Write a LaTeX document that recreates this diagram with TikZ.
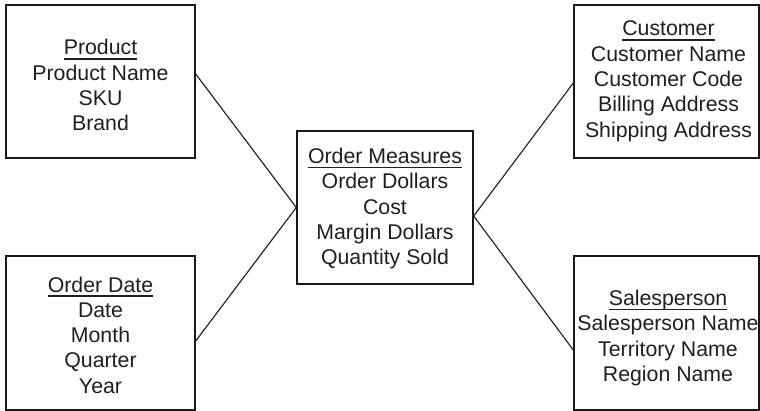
\documentclass[tikz,border=0pt]{standalone}
\usepackage{fontspec}
\setmainfont{Liberation Sans}
\usetikzlibrary{calc}
\newcommand{\ulx}[1]{\setbox0\hbox{#1}\rlap{\rule[-4.6pt]{\wd0}{1.2pt}}\box0}
\tikzset{
  entbox/.style={draw=black!90, line width=1.4pt},
  enttext/.style={anchor=base, align=center, inner sep=0pt, text=black!88,
    font=\fontsize{21.3}{25.3}\selectfont},
  link/.style={draw=black!90, line width=1.1pt}
}
\begin{document}
\begin{tikzpicture}[x=1pt,y=-1pt]
\useasboundingbox (0,0) rectangle (760,411);
\node[entbox, minimum width=189pt, minimum height=153pt, inner sep=0pt] (prod) at (100.5,81.5) {};
\node[entbox, minimum width=185pt, minimum height=153pt, inner sep=0pt] (cust) at (666.5,81.5) {};
\node[entbox, minimum width=189pt, minimum height=154pt, inner sep=0pt] (date) at (100.5,333) {};
\node[entbox, minimum width=185pt, minimum height=154pt, inner sep=0pt] (sales) at (666.5,333) {};
\node[entbox, minimum width=176pt, minimum height=153pt, inner sep=0pt] (meas) at (385,207.5) {};
% text nodes are anchored at the baseline of their last line
\node[enttext] (prodt) at (100.5,130.9) {\ulx{Product}\\Product Name\\SKU\\Brand};
\node[enttext] (custt) at (668.5,137.2) {\ulx{Customer}\\Customer Name\\Customer Code\\Billing Address\\Shipping Address};
\node[enttext] (datet) at (100.5,393.2) {\ulx{Order Date}\\Date\\Month\\Quarter\\Year};
\node[enttext] (salest) at (668,381.5) {\ulx{Salesperson}\\Salesperson Name\\Territory Name\\Region Name};
\node[enttext] (meast) at (385,264.8) {\ulx{Order Measures}\\Order Dollars\\Cost\\Margin Dollars\\Quantity Sold};
\draw[link] ([yshift=7.5pt]prod.east) -- (meas.west);
\draw[link] ([yshift=-8pt]date.east) -- (meas.west);
\draw[link] ([yshift=-1.5pt]cust.west) -- ([yshift=-8.5pt]meas.east);
\draw[link] ([yshift=-17pt]sales.west) -- ([yshift=-8.5pt]meas.east);
\end{tikzpicture}
\end{document}
